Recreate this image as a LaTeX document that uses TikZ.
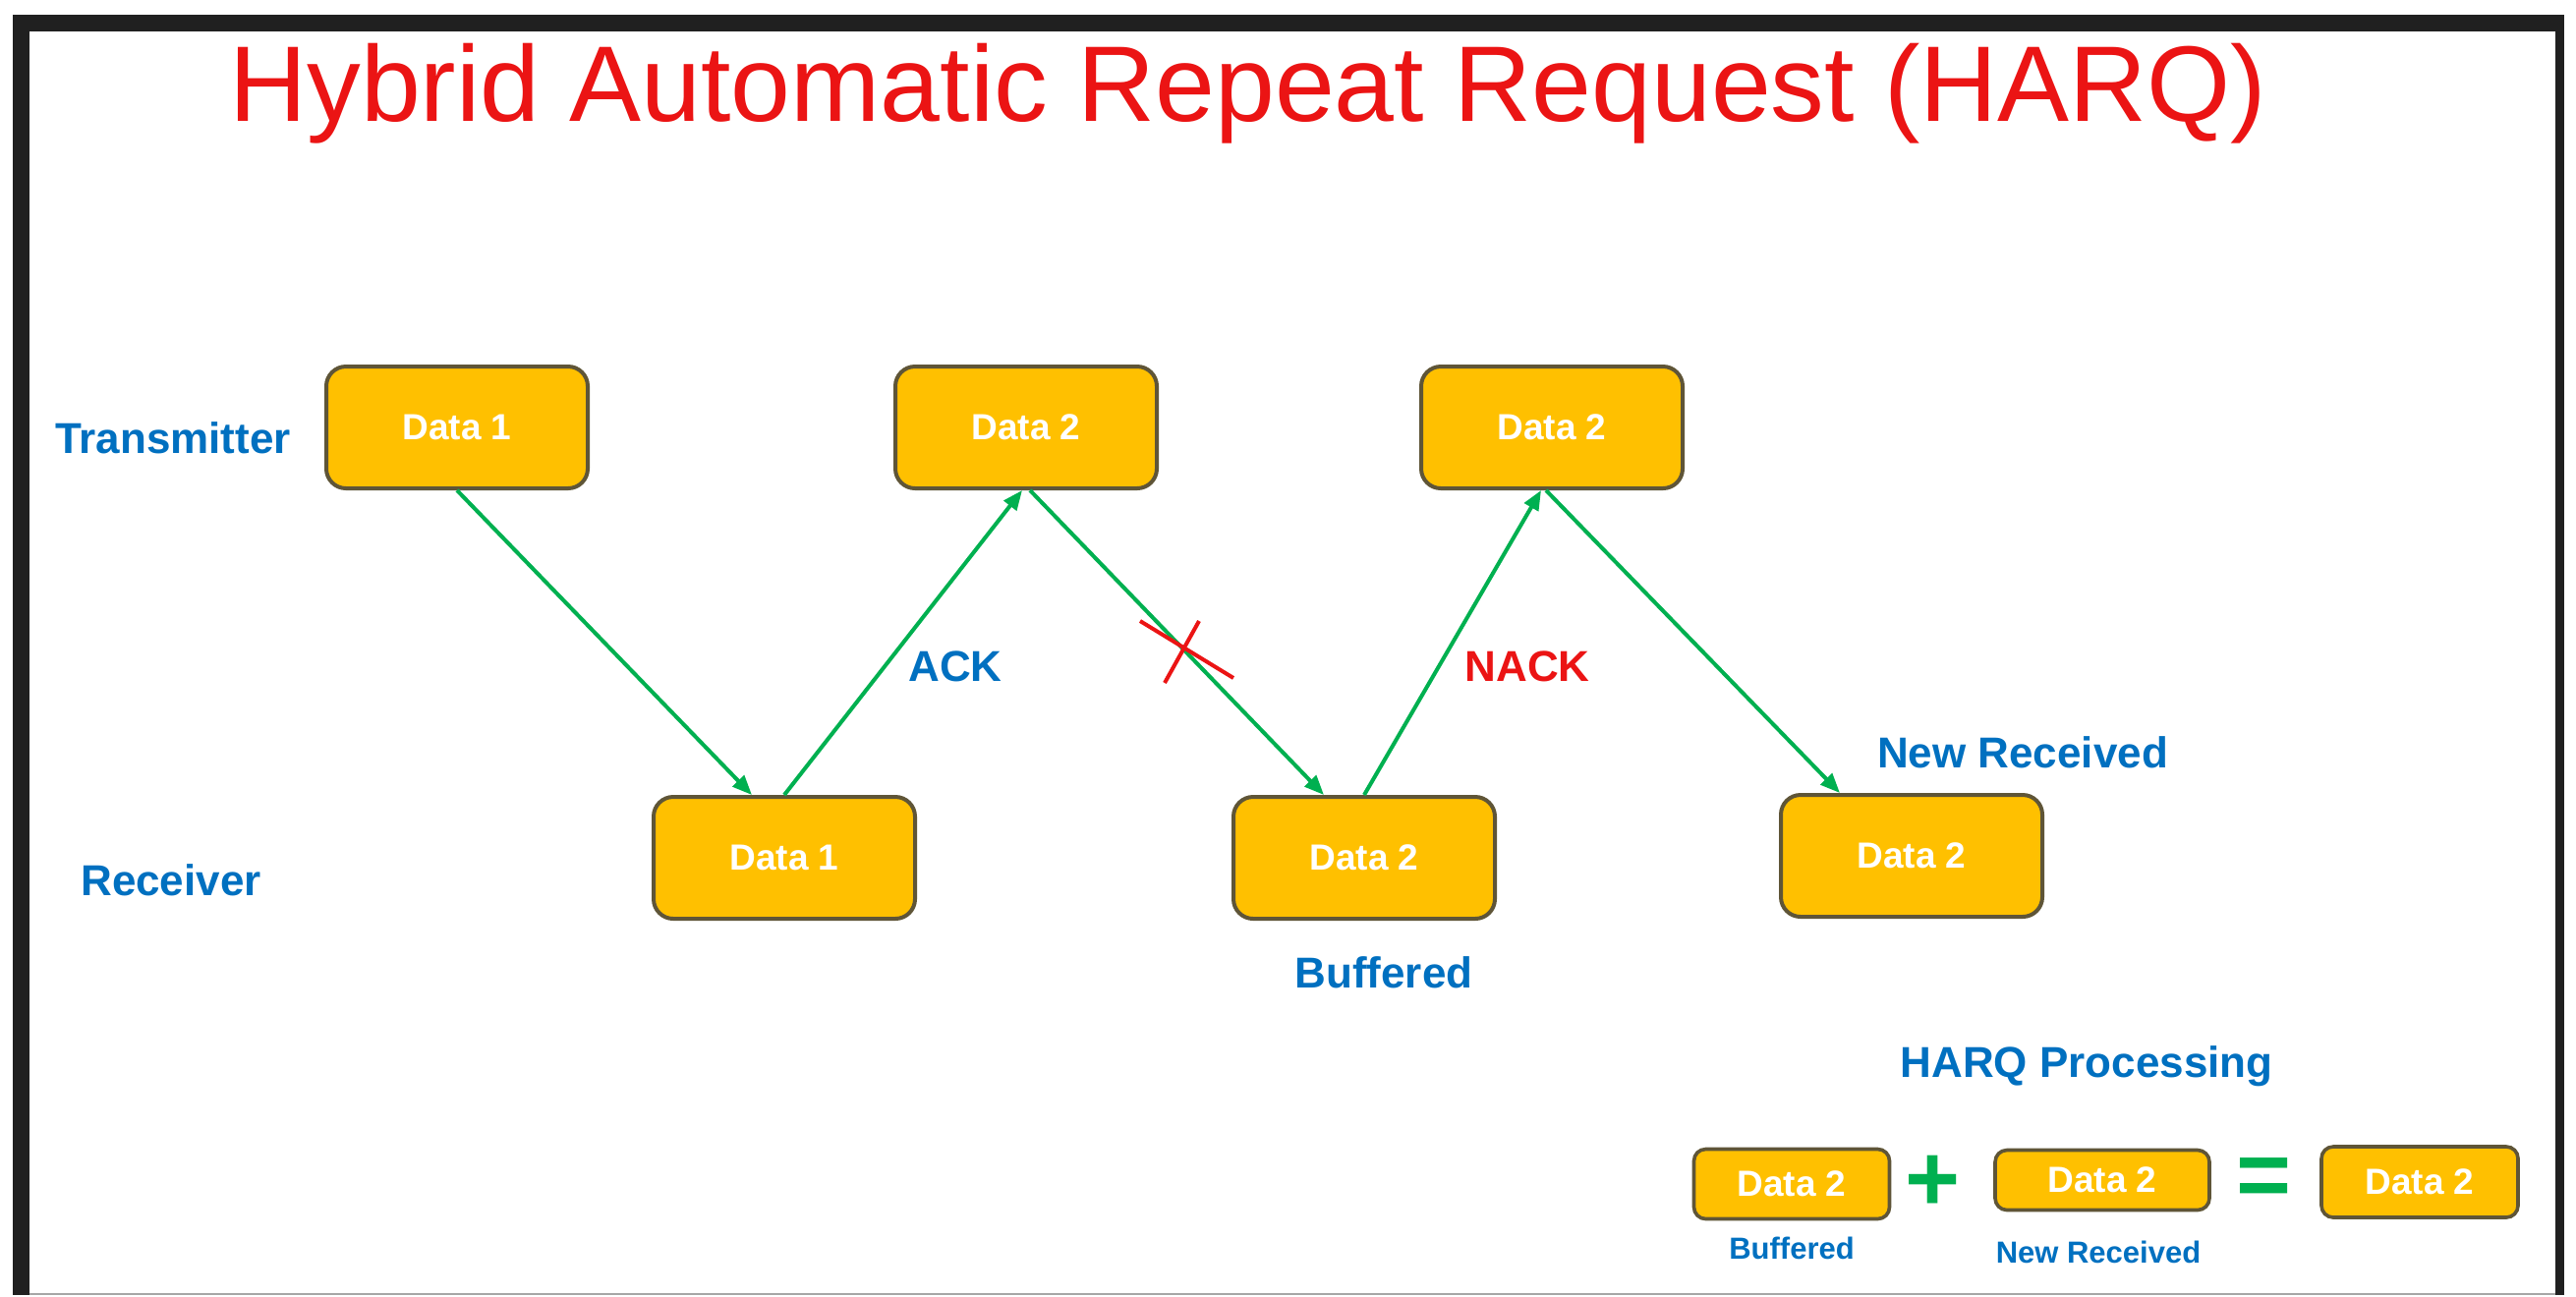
\documentclass[tikz,border=0pt]{standalone}
\usepackage{fontspec}
\setmainfont{Liberation Sans}
\usetikzlibrary{arrows.meta,calc}
\definecolor{harqred}{RGB}{235,20,20}
\definecolor{harqblue}{RGB}{0,112,192}
\definecolor{harqgreen}{RGB}{0,176,80}
\definecolor{boxfill}{RGB}{255,192,0}
\definecolor{boxedge}{RGB}{95,85,55}
\definecolor{framecol}{RGB}{32,32,32}
\begin{document}
\begin{tikzpicture}[x=0.5pt,y=-0.5pt,
  databox/.style={draw=boxedge, fill=boxfill, line width=2pt, rounded corners=10pt,
    minimum width=133pt, minimum height=62pt, inner sep=0pt, text=white,
    font=\fontsize{18.5}{22}\selectfont\bfseries},
  smallbox/.style={databox, rounded corners=6pt, line width=1.8pt},
  lbl/.style={text=harqblue, font=\fontsize{22}{26}\selectfont\bfseries, anchor=base, inner sep=0pt},
  smalllbl/.style={lbl, font=\fontsize{15.5}{18}\selectfont\bfseries},
  flow/.style={draw=harqgreen, line width=2pt, -{Triangle[length=10pt,width=8pt]}},
  opsign/.style={text=harqgreen, font=\fontsize{48}{50}\selectfont\bfseries, inner sep=0pt},
]
\useasboundingbox (0,0) rectangle (2621,1319);

% slide frame
\fill[framecol] (13,15) rectangle (2609,1318);
\fill[white] (30,32) rectangle (2600,1316);
\draw[gray!70, line width=1pt] (30,1317) -- (2600,1317);

% title
\node[text=harqred, font=\fontsize{54.7}{60}\selectfont, anchor=base, inner sep=0pt] (title) at (1270,123)
  {Hybrid Automatic Repeat Request (HARQ)};

% side labels
\node[lbl] (txlbl) at (176,461) {Transmitter};
\node[lbl] (rxlbl) at (174,911) {Receiver};

% transmitter row
\node[databox] (tx1) at (465,435) {Data 1};
\node[databox] (tx2) at (1044,435) {Data 2};
\node[databox] (tx3) at (1579,435) {Data 2};

% receiver row
\node[databox] (rx1) at (798,873) {Data 1};
\node[databox] (rx2) at (1388,873) {Data 2};
\node[databox] (rx3) at (1945,871) {Data 2};

% transmissions and feedback
\draw[flow] (tx1.south) -- ($(rx1.north)+(-33,0)$);
\draw[flow] (rx1.north) -- ($(tx2.south)+(-4,0)$);
\draw[flow] ($(tx2.south)+(4,0)$) -- ($(rx2.north)+(-41,0)$);
\draw[flow] (rx2.north) -- ($(tx3.south)+(-11,0)$);
\draw[flow] ($(tx3.south)+(-6,0)$) -- ($(rx3.north)+(-73,0)$);

% lost packet mark
\coordinate (lostA) at (1160,632);
\coordinate (lostB) at (1255,690);
\coordinate (lostC) at (1220,632);
\coordinate (lostD) at (1185,695);
\draw[harqred, line width=2pt] (lostA) -- (lostB);
\draw[harqred, line width=2pt] (lostC) -- (lostD);

% feedback and state labels
\node[lbl] (ack) at (972,693) {ACK};
\node[lbl, text=harqred] (nack) at (1554,693) {NACK};
\node[lbl] (newrx) at (2058,781) {New Received};
\node[lbl] (buf) at (1408,1005) {Buffered};
\node[lbl] (proc) at (2123,1096) {HARQ Processing};

% soft combining
\node[smallbox, minimum width=99.5pt, minimum height=35.5pt] (cbA) at (1823,1205) {Data 2};
\node[smallbox, minimum width=109pt, minimum height=30.5pt] (cbB) at (2139,1201) {Data 2};
\node[smallbox, minimum width=100pt, minimum height=36pt] (cbC) at (2462,1203) {Data 2};
\node[opsign] (plus) at (1967,1204) {+};
\node[opsign] (equals) at (2303,1204) {=};
\node[smalllbl] (cbAlbl) at (1823,1281) {Buffered};
\node[smalllbl] (cbBlbl) at (2135,1285) {New Received};
\end{tikzpicture}
\end{document}
